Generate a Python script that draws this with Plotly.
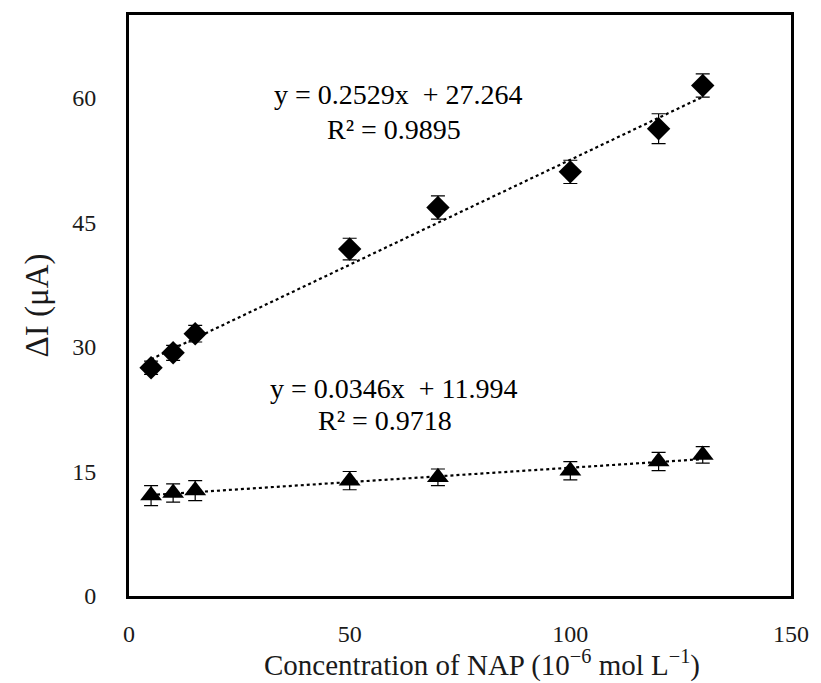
import plotly.graph_objects as go

# NAP concentration (10^-6 mol/L)
conc = [5, 10, 15, 50, 70, 100, 120, 130]

# Upper series (diamonds): current change and its error
di_upper = [27.5, 29.3, 31.6, 41.8, 46.8, 51.1, 56.3, 61.5]
err_upper = [0.8, 0.9, 1.0, 1.3, 1.4, 1.4, 1.8, 1.4]

# Lower series (triangles)
di_lower = [12.1, 12.4, 12.7, 13.9, 14.3, 15.1, 16.2, 17.0]
err_lower = [1.2, 1.1, 1.2, 1.1, 1.0, 1.1, 1.1, 1.0]

# Linear fits: slope, intercept, R^2
fit_upper = (0.2529, 27.264, 0.9895)
fit_lower = (0.0346, 11.994, 0.9718)

x_ticks = [0, 50, 100, 150]
y_ticks = [0, 15, 30, 45, 60]

FONT = "Liberation Serif"
INK = "#1a1a1a"

fig = go.Figure()


def add_fit(fit):
    slope, icpt, _ = fit
    xs = [conc[0], conc[-1]]
    fig.add_trace(go.Scatter(
        x=xs, y=[slope * v + icpt for v in xs], mode="lines",
        line=dict(color="black", width=2.2, dash="dot"),
        hoverinfo="skip", showlegend=False))


add_fit(fit_upper)
add_fit(fit_lower)

fig.add_trace(go.Scatter(
    x=conc, y=di_upper, mode="markers",
    marker=dict(symbol="diamond", size=18, color="black"),
    error_y=dict(type="data", array=err_upper, color="black",
                 thickness=1.2, width=7),
    showlegend=False))

fig.add_trace(go.Scatter(
    x=conc, y=di_lower, mode="markers",
    marker=dict(symbol="triangle-up", size=19, color="black"),
    error_y=dict(type="data", array=err_lower, color="black",
                 thickness=1.2, width=7),
    showlegend=False))


def eq_text(fit):
    slope, icpt, r2 = fit
    return f"y = {slope:.4f}x  + {icpt:.3f}", f"R² = {r2:.4f}"


ann_font = dict(family=FONT, size=28, color="black")
for fit, (xe, ye), (xr, yr) in [
    (fit_upper, (61, 60.4), (60, 56.2)),
    (fit_lower, (60, 25.0), (58, 21.1)),
]:
    eq, r2 = eq_text(fit)
    fig.add_annotation(x=xe, y=ye, text=eq, showarrow=False, font=ann_font)
    fig.add_annotation(x=xr, y=yr, text=r2, showarrow=False, font=ann_font)

# x-axis title, placed slightly right of the axis centre
fig.add_annotation(
    xref="paper", yref="paper", x=0.533, y=-0.117,
    xanchor="center", yanchor="middle", showarrow=False,
    text="Concentration of NAP (10<sup>−6</sup> mol L<sup>−1</sup>)",
    font=dict(family=FONT, size=29, color=INK))

axis_common = dict(
    showgrid=False, zeroline=False, showline=True, linecolor="black",
    linewidth=3, mirror=True, ticks="",
    tickfont=dict(family=FONT, size=24, color=INK),
)

fig.update_xaxes(range=[0, 150], tickvals=x_ticks, ticklabelstandoff=14,
                 **axis_common)
fig.update_yaxes(
    range=[0, 70], tickvals=y_ticks, ticklabelstandoff=25,
    title=dict(text="ΔI (μA)",
               font=dict(family=FONT, size=33, color=INK), standoff=14),
    **axis_common)

fig.update_layout(
    width=821, height=683,
    margin=dict(l=129, r=26, t=13, b=87),
    paper_bgcolor="white", plot_bgcolor="white",
)

fig.write_html("out.html")
